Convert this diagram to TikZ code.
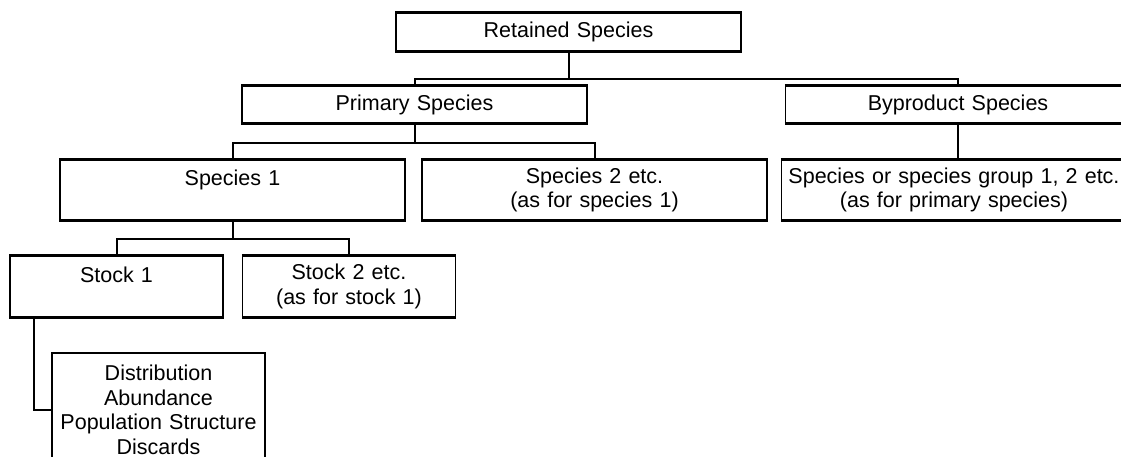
\documentclass[tikz,border=0pt]{standalone}
\usepackage{fontspec}
\setmainfont{Liberation Sans}
\begin{document}
\begin{tikzpicture}[x=1pt, y=-1pt,
    spbox/.style={draw, line width=1.2pt, align=center, inner xsep=4pt,
      font=\fontsize{21.5}{24.5}\selectfont,
      append after command={
        (\tikzlastnode.north west) edge[line width=2.6pt] (\tikzlastnode.north east)
        (\tikzlastnode.south west) edge[line width=2.6pt] (\tikzlastnode.south east)}},
    widebox/.style={spbox, minimum width=345pt, text width=337pt},
    narrowbox/.style={spbox, minimum width=213pt, text width=205pt},
    link/.style={line width=2pt}]
  \useasboundingbox (0,0) rectangle (1121,457);
  % boxes
  \node[widebox, minimum height=38pt] (ret) at (568.5,32) {Retained Species};
  \node[widebox, minimum height=37pt] (prim) at (414.5,104.5) {Primary Species};
  \node[widebox, minimum height=37pt] (byp) at (958,104.5) {Byproduct Species};
  \node[widebox, minimum height=60pt] (sp1) at (232.5,190) {Species 1\\ \mbox{}};
  \node[widebox, minimum height=60pt] (sp2) at (594.5,190) {Species 2 etc.\\(as for species 1)};
  \node[widebox, minimum height=60pt] (grp) at (954,190) {Species or species group 1, 2 etc.\\(as for primary species)};
  \node[narrowbox, minimum height=61pt] (st1) at (116.5,286.5) {Stock 1\\ \mbox{}};
  \node[narrowbox, minimum height=61pt] (st2) at (349,286.5) {Stock 2 etc.\\(as for stock 1)};
  \node[narrowbox, minimum height=112pt, anchor=north] (det) at (158.5,353)
    {Distribution\\Abundance\\Population Structure\\Discards};
  % connectors
  \draw[link] (ret.south) -- ++(0,27) coordinate (rj);
  \draw[link] (prim.north) |- (rj) -| (byp.north);
  \draw[link] (prim.south) -- ++(0,19) coordinate (pj);
  \draw[link] (sp1.north) |- (pj) -| (sp2.north);
  \draw[link] (byp.south) -- (byp.south |- grp.north);
  \draw[link] (sp1.south) -- ++(0,18) coordinate (sj);
  \draw[link] (st1.north) |- (sj) -| (st2.north);
  \draw[link] ([xshift=25pt]st1.south west) |- (det.west);
\end{tikzpicture}
\end{document}
